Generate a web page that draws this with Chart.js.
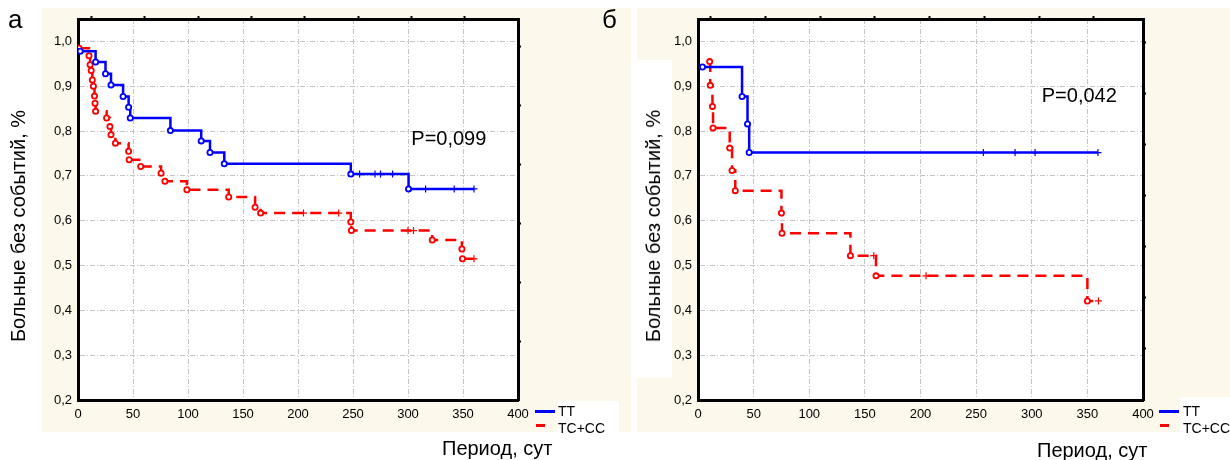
<!DOCTYPE html>
<html>
<head>
<meta charset="utf-8">
<script src="https://cdn.jsdelivr.net/npm/chart.js@4"></script>
<style>
  body { margin: 0; width: 1230px; height: 460px; position: relative; background: #fff; overflow: hidden;
         font-family: "Liberation Sans", Arial, sans-serif; color: #000; }
  .abs { position: absolute; }
  .beige { background: #fcf8ec; }
  .txt { white-space: nowrap; }
  .ytitle { font-size: 20px; line-height: 20px; transform: translate(-50%, -50%) rotate(-90deg); }
</style>
</head>
<body>
<div class="abs beige" style="left:42px;top:8px;width:589px;height:424px"></div>
<div class="abs beige" style="left:637px;top:8px;width:593px;height:424px"></div>
<div class="abs" style="left:637px;top:60px;width:35px;height:318px;background:#fff"></div>

<div class="abs" style="left:0;top:0;width:631px;height:460px"><canvas id="chartA" width="631" height="460"></canvas></div>
<div class="abs" style="left:637px;top:0;width:593px;height:460px"><canvas id="chartB" width="593" height="460"></canvas></div>

<!-- panel letters -->
<div class="abs txt" style="left:8px;top:4px;font-size:26px">а</div>
<div class="abs txt" style="left:602px;top:4px;font-size:26px">б</div>

<!-- y titles -->
<div class="abs txt ytitle" style="left:18px;top:226px">Больные без событий, %</div>
<div class="abs txt ytitle" style="left:653px;top:226px">Больные без событий, %</div>

<!-- x titles -->
<div class="abs txt" style="left:442px;top:437px;font-size:20px;line-height:22px">Период, сут</div>
<div class="abs txt" style="left:1037px;top:439px;font-size:20px;line-height:22px">Период, сут</div>

<!-- legends -->
<div class="abs" style="left:557px;top:401px;width:62px;height:31px;background:#fff"></div>
<div class="abs" style="left:535px;top:410px;width:20px;height:3px;background:#0000ff"></div>
<div class="abs" style="left:536px;top:424px;width:9px;height:3px;background:#ff0000"></div>
<div class="abs txt" style="left:558px;top:403px;font-size:14px;line-height:16px">TT</div>
<div class="abs txt" style="left:558px;top:420px;font-size:14px;line-height:16px">TC+CC</div>

<div class="abs" style="left:1180px;top:397px;width:50px;height:35px;background:#fff"></div>
<div class="abs" style="left:1159px;top:410px;width:20px;height:3px;background:#0000ff"></div>
<div class="abs" style="left:1160px;top:424px;width:9px;height:3px;background:#ff0000"></div>
<div class="abs txt" style="left:1183px;top:403px;font-size:14px;line-height:16px">TT</div>
<div class="abs txt" style="left:1183px;top:420px;font-size:14px;line-height:16px">TC+CC</div>

<script>
// panel a: TT
const aTTDays = [2, 16, 25, 30, 41, 46, 47.5, 84, 112, 120, 133, 248, 256, 270, 275, 286, 300.5, 316, 342, 360];
const aTTSurv = [0.978, 0.954, 0.928, 0.903, 0.877, 0.853, 0.829, 0.801, 0.778, 0.752, 0.727, 0.704, 0.704, 0.704, 0.704, 0.704, 0.671, 0.671, 0.671, 0.671];
const aTTMark = ['o','o','o','o','o','o','o','o','o','o','o','o','+','+','+','+','o','+','+','+'];
// panel a: TC+CC
const aTCDays = [1, 10, 11, 12, 13, 14, 15, 15.5, 16, 26, 29, 30, 34, 46, 46.5, 57, 75.5, 79, 99, 137, 161, 166, 205, 237, 248, 248.5, 300, 305, 322, 349, 349.5, 360];
const aTCSurv = [0.985, 0.968, 0.948, 0.935, 0.914, 0.900, 0.878, 0.862, 0.844, 0.829, 0.810, 0.792, 0.773, 0.755, 0.736, 0.721, 0.706, 0.688, 0.669, 0.653, 0.630, 0.617, 0.617, 0.617, 0.597, 0.578, 0.578, 0.578, 0.557, 0.537, 0.515, 0.515];
const aTCMark = ['o','o','o','o','o','o','o','o','o','o','o','o','o','o','o','o','o','o','o','o','o','o','+','+','o','o','+','+','o','o','o','+'];
// panel б: TT
const bTTDays = [4, 39.6, 44.5, 46, 256.5, 285, 303, 359.5];
const bTTSurv = [0.943, 0.877, 0.816, 0.752, 0.752, 0.752, 0.752, 0.752];
const bTTMark = ['o','o','o','o','+','+','+','+'];
// panel б: TC+CC
const bTCDays = [10.5, 11, 13, 13.5, 28.5, 30.6, 33.5, 75, 75.5, 137, 158, 160, 205, 350, 360];
const bTCSurv = [0.955, 0.902, 0.855, 0.807, 0.762, 0.712, 0.667, 0.617, 0.572, 0.522, 0.522, 0.477, 0.477, 0.421, 0.421];
const bTCMark = ['o','o','o','o','o','o','o','o','o','o','+','o','+','o','+'];

const xTicks = [0, 50, 100, 150, 200, 250, 300, 350, 400];
const yTicks = [0.2, 0.3, 0.4, 0.5, 0.6, 0.7, 0.8, 0.9, 1.0];

const FONT = '"Liberation Sans", Arial, sans-serif';

function series(days, surv, marks, color, dash) {
    return {
        data: days.map((d, i) => ({ x: d, y: surv[i] })),
        stepped: true,
        borderColor: color,
        borderWidth: 2.5,
        borderDash: dash,
        fill: false,
        pointStyle: c => marks[c.dataIndex] === 'o' ? 'circle' : 'cross',
        pointRadius: c => marks[c.dataIndex] === 'o' ? 2.6 : 3.5,
        pointBorderWidth: c => marks[c.dataIndex] === 'o' ? 1.8 : 1.2,
        pointBackgroundColor: '#fff',
        pointBorderColor: color,
        xAxisID: 'x',
        yAxisID: 'y'
    };
}

// white plot area behind the grid
const plotBg = {
    id: 'plotBg',
    beforeDraw(chart) {
        const { ctx, chartArea: a } = chart;
        ctx.save();
        ctx.fillStyle = '#fff';
        ctx.fillRect(a.left, a.top, a.right - a.left, a.bottom - a.top);
        ctx.restore();
    }
};

// P value written inside the plot
const pText = {
    id: 'pText',
    afterDatasetsDraw(chart, args, opts) {
        const { ctx, scales } = chart;
        ctx.save();
        ctx.font = '20px ' + FONT;
        ctx.fillStyle = '#000';
        ctx.textBaseline = 'middle';
        ctx.fillText(opts.text, scales.x.getPixelForValue(opts.x), scales.y.getPixelForValue(opts.y));
        ctx.restore();
    }
};

function makeChart(id, sets, g) {
    new Chart(document.getElementById(id), {
        type: 'line',
        data: { datasets: sets },
        plugins: [plotBg, pText],
        options: {
            responsive: false,
            animation: false,
            layout: { padding: 0 },
            plugins: {
                legend: { display: false },
                tooltip: { enabled: false },
                pText: g.p
            },
            scales: {
                x: {
                    type: 'linear', position: 'bottom', min: 0, max: 400,
                    afterBuildTicks: s => { s.ticks = xTicks.map(v => ({ value: v })); },
                    ticks: { color: '#000', font: { family: FONT, size: 13 }, padding: 3, maxRotation: 0 },
                    grid: { color: '#c4c4c4', lineWidth: 1, tickLength: 4, tickColor: 'rgba(0,0,0,0)' },
                    border: { color: '#000', width: 3, dash: [5, 2, 1, 2] },
                    afterFit: s => { s.height = 60; }
                },
                y: {
                    type: 'linear', position: 'left', min: 0.2, max: 1.05,
                    afterBuildTicks: s => { s.ticks = yTicks.map(v => ({ value: v })); },
                    ticks: { color: '#000', font: { family: FONT, size: 13 }, padding: 3,
                             callback: v => v.toFixed(1).replace('.', ',') },
                    grid: { color: '#c4c4c4', lineWidth: 1, tickLength: 3, tickColor: 'rgba(0,0,0,0)' },
                    border: { color: '#000', width: 3, dash: [5, 2, 1, 2] },
                    afterFit: s => { s.width = g.left; }
                },
                x2: {
                    type: 'linear', position: 'top', min: g.topMin, max: g.topMax,
                    afterBuildTicks: s => { s.ticks = [0, 1, 2, 3, 4, 5, 6, 7].filter(v => v < g.topMax - 0.2).map(v => ({ value: v })); },
                    ticks: { display: false },
                    grid: { drawOnChartArea: false, tickLength: 3, tickColor: '#000', tickWidth: 2 },
                    border: { color: '#000', width: 3 },
                    afterFit: s => { s.height = 19; }
                },
                y2: {
                    type: 'linear', position: 'right', min: 0, max: g.rightMax,
                    afterBuildTicks: s => { s.ticks = [1, 2, 3, 4, 5, 6, 7].filter(v => v < g.rightMax - 0.2).map(v => ({ value: v })); },
                    ticks: { display: false },
                    grid: { drawOnChartArea: false, tickLength: 3, tickColor: '#000', tickWidth: 2 },
                    border: { color: '#000', width: 3 },
                    afterFit: s => { s.width = g.right; }
                }
            }
        }
    });
}

makeChart('chartA', [
    series(aTTDays, aTTSurv, aTTMark, '#0000ff', []),
    series(aTCDays, aTCSurv, aTCMark, '#ff0000', [11, 7])
], { left: 78, right: 113, topMin: -0.25, topMax: 8, rightMax: 6.46, p: { text: 'P=0,099', x: 303, y: 0.782 } });

makeChart('chartB', [
    series(bTTDays, bTTSurv, bTTMark, '#0000ff', []),
    series(bTCDays, bTCSurv, bTCMark, '#ff0000', [11, 7])
], { left: 61, right: 87, topMin: -0.23, topMax: 7.9, rightMax: 7.47, p: { text: 'P=0,042', x: 309, y: 0.877 } });
</script>
</body>
</html>
